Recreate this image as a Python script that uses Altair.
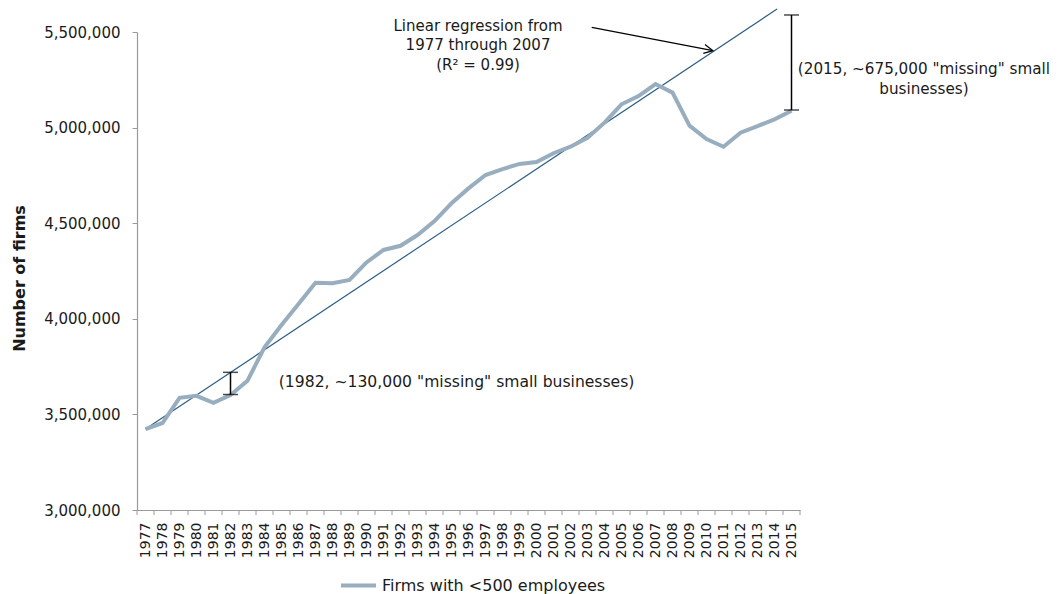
import altair as alt
import pandas as pd

FONT = "DejaVu Sans"

years = list(range(1977, 2016))
firms = [3423000, 3455000, 3587000, 3597000, 3561000, 3601000, 3676000, 3851000,
         3967000, 4077000, 4189000, 4186000, 4203000, 4295000, 4360000, 4382000,
         4438000, 4511000, 4604000, 4682000, 4752000, 4783000, 4810000, 4820000,
         4866000, 4900000, 4947000, 5026000, 5122000, 5165000, 5228000, 5183000,
         5010000, 4940000, 4900000, 4973000, 5008000, 5043000, 5088000]
series_name = "Firms with <500 employees"

reg_years = [1977, 2014.15]
reg_values = [3424000, 5620000]

gap_years = [1982, 2015]
gap_low = [3604000, 5092000]
gap_high = [3720000, 5589000]

arrow_years = [2003.25, 2010.38]
arrow_values = [5524600, 5402200]

reg_label_lines = ["Linear regression from", "1977 through 2007", "(R\u00b2 = 0.99)"]
reg_label_year = 1996.56
reg_label_values = [5531000, 5429400, 5327400]

gap1982_label = "(1982, ~130,000 \"missing\" small businesses)"
gap1982_year = 1984.84
gap1982_value = 3671000

gap2015_lines = ["(2015, ~675,000 \"missing\" small", "businesses)"]
gap2015_year = 2022.79
gap2015_values = [5306500, 5202000]

y_ticks = [3000000, 3500000, 4000000, 4500000, 5000000, 5500000]

W, H = 663, 478

xs = alt.Scale(domain=[1976.5, 2015.5], nice=False, zero=False)
ys = alt.Scale(domain=[3000000, 5500000], nice=False, zero=False)

xaxis = alt.Axis(values=years, format="d", labelAngle=-90, ticks=False, labelPadding=12,
                 grid=False, labelOverlap=False, labelFlush=False, labelFontSize=14,
                 title=None)
yaxis = alt.Axis(values=y_ticks, format=",d", tickSize=5, labelPadding=12, grid=False,
                 labelFontSize=15, title="Number of firms", titleFontSize=16,
                 titleFontWeight="bold", titleX=-118, titleY=246, titleAngle=-90,
                 titleAlign="center", titleBaseline="middle")


def X(f):
    return alt.X(f, type="quantitative", scale=xs, axis=xaxis)


def Y(f):
    return alt.Y(f, type="quantitative", scale=ys, axis=yaxis)


df = pd.DataFrame({"year": years, "value": firms, "series": series_name})
reg_df = pd.DataFrame({"year": reg_years, "value": reg_values})
gap_df = pd.DataFrame({"year": gap_years, "value": gap_low, "hi": gap_high})
arrow_df = pd.DataFrame({"year": [arrow_years[0]], "value": [arrow_values[0]],
                         "year2": [arrow_years[1]], "value2": [arrow_values[1]]})
head_df = pd.DataFrame({"year": [arrow_years[1]], "value": [arrow_values[1]]})
bounds_df = pd.DataFrame({"year": [y - 0.5 for y in years] + [years[-1] + 0.5]})
reg_lab_df = pd.DataFrame({"year": [reg_label_year] * 3, "value": reg_label_values,
                           "text": reg_label_lines})
g1_df = pd.DataFrame({"year": [gap1982_year], "value": [gap1982_value], "text": [gap1982_label]})
g2_df = pd.DataFrame({"year": [gap2015_year] * 2, "value": gap2015_values, "text": gap2015_lines})

series = alt.Chart(df).mark_line(strokeWidth=4, strokeJoin="miter").encode(
    x=X("year"), y=Y("value"),
    color=alt.Color("series:N", scale=alt.Scale(domain=[series_name], range=["#98aebe"]),
                    legend=alt.Legend(title=None, orient="none", legendX=202, legendY=534,
                                      symbolType="stroke", symbolStrokeWidth=4,
                                      symbolSize=1225, labelFontSize=16, labelFont=FONT,
                                      labelColor="#1a1a1a", labelOffset=4, labelLimit=0)))

reg = alt.Chart(reg_df).mark_line(color="#2d5f86", strokeWidth=1.2, clip=False).encode(
    x=X("year"), y=Y("value"))

xticks = alt.Chart(bounds_df).mark_rule(color="#9a9a9a", strokeWidth=1).encode(
    x=X("year"), y=alt.value(H), y2=alt.value(H + 5))

gap_rule = alt.Chart(gap_df).mark_rule(color="black", strokeWidth=1.5, clip=False).encode(
    x=X("year"), y=Y("value"), y2="hi:Q")
gap_lo = alt.Chart(gap_df).mark_tick(color="black", thickness=1.5, size=15,
                                     orient="horizontal", clip=False).encode(
    x=X("year"), y=Y("value"))
gap_hi = alt.Chart(gap_df).mark_tick(color="black", thickness=1.5, size=15,
                                     orient="horizontal", clip=False).encode(
    x=X("year"), y=Y("hi"))

arrow = alt.Chart(arrow_df).mark_rule(color="black", strokeWidth=1.2).encode(
    x=X("year"), y=Y("value"), x2="year2:Q", y2="value2:Q")
head = alt.Chart(head_df).mark_point(shape="M -1 -0.5 L 0 0 L -1 0.5", filled=False,
                                     size=324, angle=10.9, color="black",
                                     strokeWidth=1.2, opacity=1).encode(
    x=X("year"), y=Y("value"))

txt_kw = dict(font=FONT, color="#1a1a1a", clip=False)
reg_lab = alt.Chart(reg_lab_df).mark_text(align="center", baseline="middle", fontSize=15,
                                          **txt_kw).encode(
    x=X("year"), y=Y("value"), text="text:N")
g1 = alt.Chart(g1_df).mark_text(align="left", baseline="middle", fontSize=15.6,
                                **txt_kw).encode(
    x=X("year"), y=Y("value"), text="text:N")
g2 = alt.Chart(g2_df).mark_text(align="center", baseline="middle", fontSize=15.2,
                                **txt_kw).encode(
    x=X("year"), y=Y("value"), text="text:N")

chart = alt.layer(xticks, reg, series, gap_rule, gap_lo, gap_hi, arrow, head,
                  reg_lab, g1, g2).properties(
    width=W, height=H,
    autosize=alt.AutoSizeParams(type="none"),
    padding={"left": 129, "top": 24, "right": 251, "bottom": 84},
).configure_view(stroke=None).configure_axis(
    labelFont=FONT, titleFont=FONT, labelColor="#1a1a1a", titleColor="#1a1a1a",
    domainColor="#9a9a9a", tickColor="#9a9a9a", domainWidth=1.2
)

chart.save("out.html", embed_options={"renderer": "svg", "actions": False})
